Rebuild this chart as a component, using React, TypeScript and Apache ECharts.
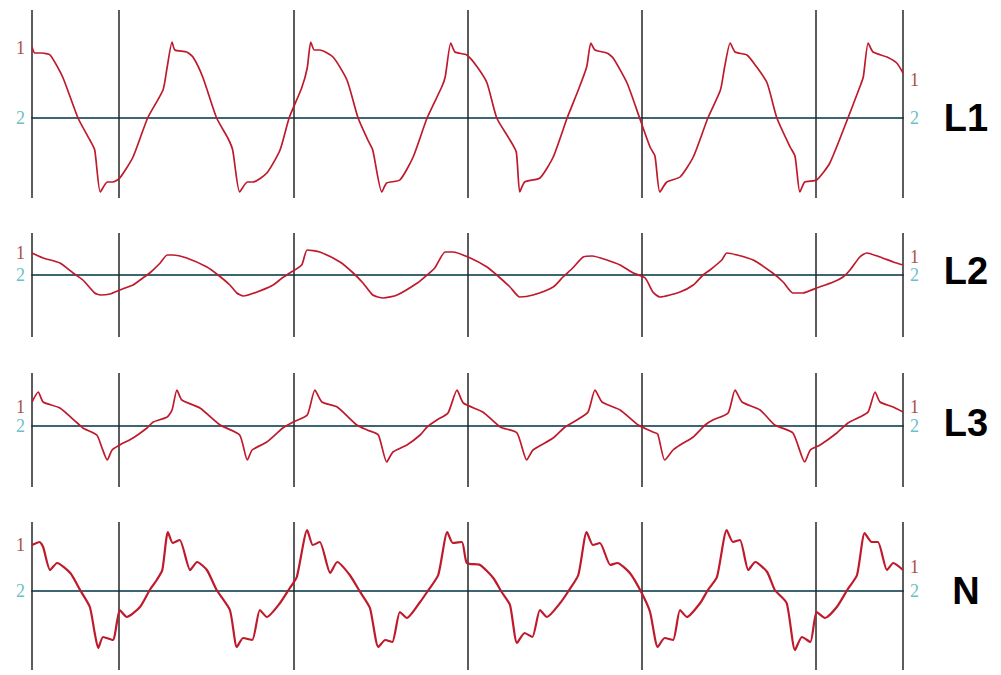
import React, { useEffect, useRef } from "react";
import * as echarts from "echarts";

// time axis (ms) and division marks
const timeMin = 0;
const timeMax = 125;
const divisionTimes = [0, 12.5, 37.5, 62.5, 87.5, 112.5, 125];

const panelNames = ["L1", "L2", "L3", "N"];

// traces: [time ms, value]
const l1Trace: [number, number][] = [
  [0.0, 71], [0.4, 65], [1.4, 65], [2.6, 63], [4.4, 41], [6.6, 0], [8.3, -22], [9.0, -32], [9.8, -74],
  [10.8, -64], [11.6, -64], [12.6, -60], [14.5, -39], [16.6, 0], [18.8, 28], [19.4, 51], [20.1, 76],
  [20.5, 68], [22.2, 66], [23.1, 61], [24.5, 41], [26.5, 0], [28.1, -20], [28.8, -32], [29.8, -74],
  [30.9, -64], [31.7, -64], [33.7, -55], [35.6, -32], [36.9, 0], [38.7, 30], [39.5, 50], [40.0, 76],
  [40.5, 68], [41.3, 68], [43.2, 61], [45.2, 38], [46.8, 0], [48.2, -22], [48.9, -32], [50.2, -74],
  [50.9, -65], [52.8, -62], [54.7, -39], [56.7, 0], [58.8, 31], [59.3, 41], [60.1, 75], [60.7, 66],
  [62.4, 63], [63.9, 51], [65.3, 35], [66.7, 0], [68.6, -22], [69.5, -34], [70.0, -74], [70.7, -64],
  [72.9, -60], [74.8, -39], [76.8, 0], [78.4, 28], [79.6, 51], [80.2, 75], [80.8, 68], [82.5, 65],
  [83.4, 60], [85.4, 35], [87.2, 0], [88.7, -29], [89.4, -38], [90.1, -74], [91.1, -64], [93.0, -59],
  [94.9, -39], [97.0, 0], [98.8, 28], [99.4, 51], [100.2, 75], [100.9, 66], [102.6, 63], [104.0, 51],
  [105.5, 35], [106.9, 0], [108.8, -29], [109.5, -38], [110.2, -74], [110.9, -64], [112.6, -62],
  [114.5, -45], [117.1, 0], [118.8, 31], [119.3, 41], [120.0, 75], [120.7, 66], [122.7, 61],
  [124.1, 55], [125.0, 45],
];

const l2Trace: [number, number][] = [
  [0.0, 22], [1.6, 17], [4.0, 12], [5.9, 2], [7.3, -5], [9.0, -18], [9.8, -20], [11.2, -19], [12.6, -15],
  [14.5, -10], [15.9, -3], [16.9, 2], [18.4, 12], [19.4, 20], [20.2, 20], [22.2, 17], [25.1, 8],
  [26.7, 0], [28.4, -10], [29.4, -18], [30.3, -21], [32.3, -17], [34.6, -10], [35.9, -3], [37.0, 2],
  [38.7, 10], [39.5, 25], [41.3, 23], [44.2, 13], [46.1, 2], [47.5, -8], [48.9, -20], [50.4, -23],
  [52.4, -20], [55.3, -8], [56.7, 0], [57.8, 7], [59.3, 23], [60.4, 23], [62.9, 17], [65.3, 8],
  [66.7, 0], [68.6, -12], [70.0, -22], [71.9, -20], [74.8, -12], [76.2, -2], [77.6, 7], [79.1, 18],
  [80.4, 19], [82.5, 15], [84.4, 10], [86.3, 2], [88.0, -3], [89.1, -17], [90.1, -22], [93.0, -17],
  [94.9, -10], [96.3, 0], [97.3, 5], [99.0, 15], [99.7, 22], [101.2, 20], [103.5, 15], [106.3, 2],
  [107.8, -7], [109.2, -18], [110.6, -18], [112.6, -13], [115.0, -7], [116.4, -2], [117.4, 5],
  [118.8, 18], [119.8, 22], [121.7, 18], [123.6, 13], [125.0, 10],
];

const l3Trace: [number, number][] = [
  [0.0, 24], [0.9, 34], [1.6, 24], [4.0, 18], [6.5, 3], [7.3, -2], [9.3, -9], [10.0, -21], [10.8, -34],
  [11.5, -24], [12.6, -19], [14.5, -12], [16.5, -2], [17.4, 4], [19.4, 9], [20.1, 16], [20.8, 36],
  [21.5, 26], [24.1, 18], [27.0, 1], [29.8, -9], [30.9, -34], [31.6, -24], [33.7, -16], [36.0, -2],
  [37.5, 4], [39.5, 11], [40.6, 36], [41.6, 24], [43.8, 19], [46.6, 1], [48.1, -4], [49.7, -9],
  [50.9, -36], [51.8, -26], [53.8, -19], [55.7, -9], [56.7, -1], [58.1, 6], [59.7, 13], [61.0, 36],
  [61.9, 23], [64.7, 14], [67.2, -1], [69.6, -7], [71.0, -34], [71.9, -24], [74.8, -12], [76.5, -1],
  [78.2, 6], [79.8, 14], [80.8, 36], [81.8, 24], [84.4, 16], [87.0, 1], [89.1, -6], [89.8, -8],
  [90.8, -34], [92.0, -24], [93.0, -19], [94.9, -11], [96.6, 1], [97.7, 6], [99.9, 13], [100.9, 36],
  [101.9, 24], [104.5, 16], [106.6, 1], [109.2, -7], [110.9, -36], [111.7, -24], [113.1, -19],
  [115.5, -7], [117.1, 3], [118.8, 9], [120.0, 14], [121.0, 34], [121.7, 24], [123.6, 19], [125.0, 14],
];

const nTrace: [number, number][] = [
  [0.0, 46], [1.1, 49], [1.6, 44], [2.6, 21], [3.6, 28], [5.5, 18], [6.9, 1], [8.3, -16], [9.0, -42],
  [9.5, -57], [10.2, -46], [11.6, -49], [12.6, -19], [13.6, -26], [15.5, -16], [16.9, 1], [17.9, 11],
  [18.7, 21], [19.5, 59], [20.2, 48], [21.2, 51], [22.7, 21], [23.7, 29], [25.1, 21], [26.5, 1],
  [28.4, -19], [29.4, -56], [30.3, -47], [31.6, -49], [32.7, -19], [33.7, -26], [35.6, -12], [37.0, 3],
  [38.0, 14], [39.5, 61], [40.3, 46], [41.3, 49], [42.8, 18], [43.8, 29], [45.6, 16], [47.1, -1],
  [48.5, -17], [49.7, -56], [50.7, -49], [51.7, -51], [52.8, -21], [53.8, -27], [55.7, -11], [56.7, -1],
  [58.3, 16], [59.6, 59], [60.4, 48], [61.7, 49], [62.4, 28], [64.3, 26], [66.2, 13], [67.4, -1],
  [68.6, -14], [69.6, -52], [70.7, -42], [71.8, -46], [72.9, -19], [73.9, -26], [75.8, -12], [76.9, -1],
  [78.4, 16], [79.6, 59], [80.5, 46], [81.5, 48], [83.0, 26], [84.0, 28], [85.8, 18], [87.5, -2],
  [88.7, -21], [89.8, -56], [90.8, -47], [92.0, -49], [93.0, -19], [94.0, -26], [95.9, -12], [97.0, 1],
  [98.3, 14], [99.7, 61], [100.6, 49], [101.6, 51], [102.8, 21], [103.8, 29], [105.5, 19], [106.6, 1],
  [108.3, -12], [109.5, -59], [110.5, -46], [111.7, -51], [112.6, -21], [113.8, -27], [115.5, -16],
  [117.0, 1], [118.4, 16], [119.5, 58], [120.5, 49], [121.4, 49], [122.7, 21], [123.6, 28], [125.0, 21],
];

const traces = [l1Trace, l2Trace, l3Trace, nTrace];

// vertical value ranges of each panel
const yMins = [-80, -62, -61, -79];
const yMaxs = [108, 42, 53, 69];

// channel "1" marker levels at the left and right edges, channel "2" marks zero
const markerLeft = [70, 22, 19, 46];
const markerRight = [38, 18, 19, 24];

export default function App() {
  const ref = useRef<HTMLDivElement>(null);

  useEffect(() => {
    if (!ref.current) return;
    const chart = echarts.init(ref.current, undefined, { renderer: "svg" });

    const gridBoxes = [
      { top: 10, height: 188 },
      { top: 233, height: 104 },
      { top: 373, height: 114 },
      { top: 522, height: 148 },
    ];
    const labelY = [118, 271, 423, 591];

    const oneColor = "#a8504a";
    const twoColor = "#6cc0c8";
    const traceColor = "#bf1a2c";

    const option: any = {
      animation: false,
      backgroundColor: "#ffffff",
      grid: gridBoxes.map((g) => ({ left: 32, width: 871, top: g.top, height: g.height })),
      xAxis: gridBoxes.map((_, i) => ({
        type: "value",
        gridIndex: i,
        min: timeMin,
        max: timeMax,
        axisLine: { show: true, onZero: true, lineStyle: { color: "#3d6672", width: 2 } },
        axisTick: { show: false },
        axisLabel: { show: false },
        splitLine: { show: false },
      })),
      yAxis: gridBoxes.map((_, i) => ({
        type: "value",
        gridIndex: i,
        min: yMins[i],
        max: yMaxs[i],
        axisLine: { show: false },
        axisTick: { show: false },
        axisLabel: { show: false },
        splitLine: { show: false },
      })),
      series: traces.map((tr, i) => ({
        type: "line",
        name: panelNames[i],
        xAxisIndex: i,
        yAxisIndex: i,
        data: tr,
        showSymbol: false,
        symbol: "none",
        smooth: 0.2,
        lineStyle: { color: traceColor, width: i === 3 ? 2.2 : 1.7 },
        z: 3,
        markLine: {
          silent: true,
          symbol: ["none", "none"],
          label: { show: false },
          lineStyle: { color: "#262626", width: 1.5, type: "solid" },
          data: divisionTimes.map((t) => ({ xAxis: t })),
          z: 2,
        },
        markPoint: {
          silent: true,
          symbol: "circle",
          symbolSize: 0,
          label: {
            show: true,
            fontFamily: "Liberation Serif",
            fontSize: 18,
            distance: 7,
          },
          data: [
            { coord: [timeMin, markerLeft[i]], label: { formatter: "1", position: "left", color: oneColor } },
            { coord: [timeMin, 0], label: { formatter: "2", position: "left", color: twoColor } },
            { coord: [timeMax, markerRight[i]], label: { formatter: "1", position: "right", color: oneColor } },
            { coord: [timeMax, 0], label: { formatter: "2", position: "right", color: twoColor } },
          ],
        },
      })),
      graphic: panelNames.map((name, i) => ({
        type: "text",
        x: 966,
        y: labelY[i],
        style: {
          text: name,
          fill: "#000000",
          font: 'bold 38px "Liberation Sans", Arial, sans-serif',
          textAlign: "center",
          textVerticalAlign: "middle",
          align: "center",
          verticalAlign: "middle",
        },
      })),
    };

    chart.setOption(option);
    return () => chart.dispose();
  }, []);

  return (
    <div
      ref={ref}
      style={{ position: "absolute", left: 0, top: 0, width: 1001, height: 675, background: "#fff" }}
    />
  );
}
